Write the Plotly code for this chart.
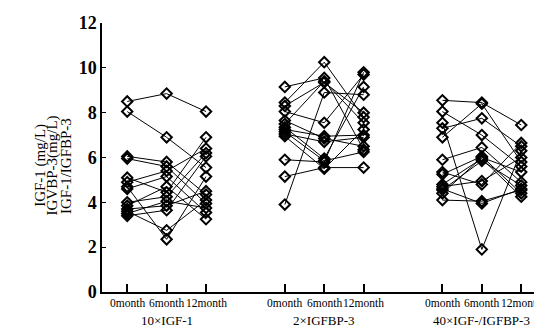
import plotly.graph_objects as go

months = ["0month", "6month", "12month"]
groups = ["10×IGF-1", "2×IGFBP-3", "40×IGF-/IGFBP-3"]
y_ticks = [0, 2, 4, 6, 8, 10, 12]

# 10 x IGF-1 (per subject: 0, 6, 12 month)
igf1_0m = [8.5, 8.05, 6.05, 5.95, 5.1, 4.9, 4.7, 4.6, 4.0, 3.85, 3.7, 3.6, 3.5, 3.4]
igf1_6m = [8.85, 6.9, 5.8, 5.6, 4.45, 5.4, 2.35, 5.15, 4.25, 4.7, 3.85, 2.75, 4.05, 3.65]
igf1_12m = [8.05, 5.55, 4.35, 3.95, 6.9, 6.4, 5.15, 3.55, 6.2, 3.25, 4.5, 4.1, 3.75, 6.05]

# 2 x IGFBP-3
bp3_0m = [9.15, 8.45, 8.3, 8.05, 7.65, 7.5, 7.25, 7.15, 7.05, 6.95, 5.9, 5.15, 3.9, 7.35]
bp3_6m = [9.55, 10.25, 9.35, 7.55, 6.85, 9.4, 6.95, 5.85, 6.7, 5.5, 5.8, 5.55, 8.9, 5.95]
bp3_12m = [6.35, 7.8, 8.0, 9.7, 6.5, 7.55, 7.0, 6.25, 6.9, 7.25, 9.8, 5.55, 8.8, 9.15]

# 40 x IGF-1/IGFBP-3
ratio_0m = [8.55, 8.05, 7.55, 7.3, 6.9, 5.9, 5.35, 5.25, 4.8, 4.7, 4.55, 4.4, 4.1, 4.6]
ratio_6m = [8.45, 7.0, 1.9, 7.75, 8.4, 6.45, 4.8, 6.05, 5.95, 4.95, 5.85, 6.0, 4.05, 3.95]
ratio_12m = [7.45, 5.6, 6.3, 6.5, 5.8, 4.9, 6.65, 4.4, 4.25, 6.0, 4.75, 5.35, 4.55, 4.6]

series = [(igf1_0m, igf1_6m, igf1_12m), (bp3_0m, bp3_6m, bp3_12m), (ratio_0m, ratio_6m, ratio_12m)]

serif = "Liberation Serif"
fig = go.Figure()
tickvals = []
for g, (a, b, c) in enumerate(series):
    base = g * 4
    xs = [base, base + 1, base + 2]
    tickvals += xs
    X, Y = [], []
    for i in range(len(a)):
        X += xs + [None]
        Y += [a[i], b[i], c[i], None]
    fig.add_trace(go.Scatter(
        x=X, y=Y, mode="lines+markers",
        line=dict(color="black", width=1),
        marker=dict(symbol="diamond-open", size=8, color="black",
                    line=dict(color="black", width=2)),
        showlegend=False, hoverinfo="skip"))
    for j, xv in enumerate(xs):
        fig.add_annotation(x=xv, y=0, xref="x", yref="paper",
                           yshift=-3, yanchor="top", showarrow=False,
                           text=months[j],
                           font=dict(family=serif, size=11.5, color="black"))
    fig.add_annotation(x=base + 1, y=0, xref="x", yref="paper",
                       yshift=-19, yanchor="top", showarrow=False,
                       text=groups[g],
                       font=dict(family=serif, size=13, color="black"))

fig.update_xaxes(range=[-0.64, 10.4], tickvals=tickvals, showticklabels=False,
                 ticks="inside", ticklen=8, tickwidth=1.5, tickcolor="black",
                 showline=True, linecolor="black", linewidth=1.5,
                 showgrid=False, zeroline=False)
fig.update_yaxes(range=[0, 12], tickvals=y_ticks, ticksuffix="\u00a0\u00a0",
                 ticks="inside", ticklen=4, tickcolor="black",
                 showline=True, linecolor="black", linewidth=1.5,
                 showgrid=False, zeroline=False,
                 tickfont=dict(family=serif, size=18, color="black", weight="bold"))

ylabels = ["IGF-1 (mg/L)", "IGVBP-3(mg/L)", "IGF-1/IGFBP-3"]
for k, t in enumerate(ylabels):
    fig.add_annotation(x=-0.142 + k * 0.029, y=0.47, xref="paper", yref="paper",
                       xanchor="center", yanchor="middle",
                       text=t, textangle=-90, showarrow=False,
                       font=dict(family=serif, size=15, color="black"))

# page body has an 8px margin: shrink figure and margins to compensate
fig.update_layout(width=534, height=328,
                  margin=dict(l=94, r=5, t=11, b=44),
                  paper_bgcolor="white", plot_bgcolor="white")
fig.write_html("out.html")
